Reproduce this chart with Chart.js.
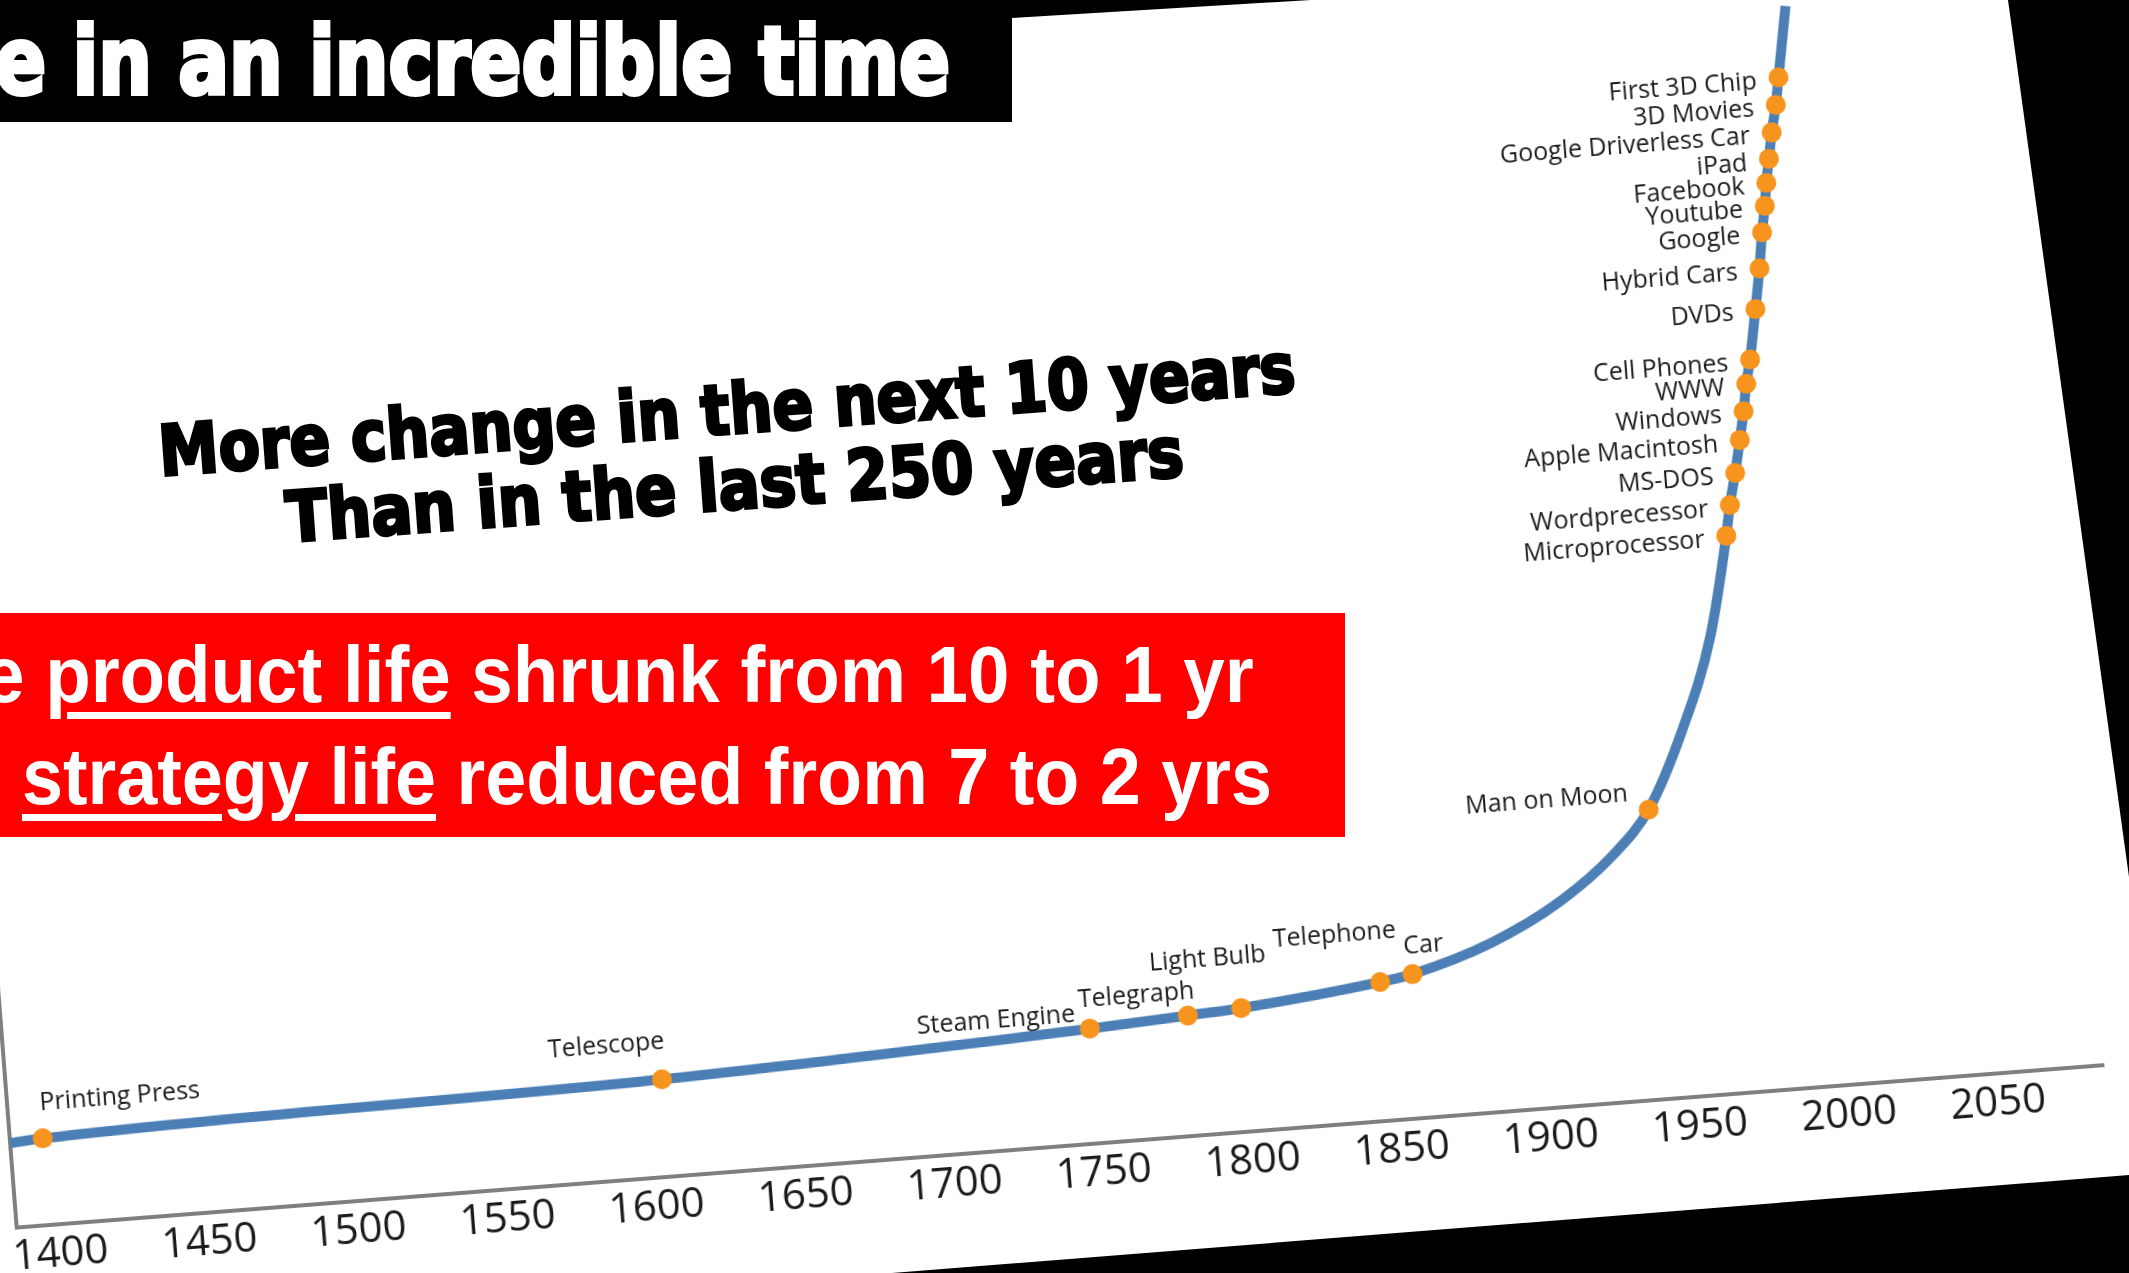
<!DOCTYPE html>
<html>
<head>
<meta charset="utf-8">
<script src="https://cdn.jsdelivr.net/npm/chart.js@4.4.1/dist/chart.umd.min.js"></script>
<style>
html, body { margin: 0; padding: 0; }
body { width: 2129px; height: 1273px; background: #000; overflow: hidden; position: relative; }
#paper { position: absolute; left: 0; top: 0; width: 2129px; height: 1273px; background: #fff; z-index: 1;
  clip-path: polygon(0 0, 1012px 0, 1012px 18px, 1311px 0, 2008px 0, 2129px 877px, 2129px 1175px, 892px 1273px, 0 1273px); }
#chartBox { position: absolute; left: 0; top: 0; transform-origin: 0 0; z-index: 2; }
#titleBar { position: absolute; left: 0; top: 0; width: 1012px; height: 122px; background: #000; z-index: 3; }
#redBox { position: absolute; left: 0; top: 613px; width: 1345px; height: 224px; background: #ff0000; z-index: 3; }
.anchor { position: absolute; width: 0; height: 0; transform-origin: 0 0; z-index: 4; }
.txt { position: absolute; left: 0; white-space: nowrap; font-weight: bold; }
.txt u { text-decoration-thickness: 7px; text-underline-offset: 10px; }
</style>
</head>
<body>
<div id="paper"></div>
<div id="chartBox"><canvas id="timeline" width="2173" height="1176"></canvas></div>
<div id="titleBar"></div>
<div id="redBox"></div>
<script>
// milestones along the curve (year, relative pace of change)
const milestoneNames = ['Printing Press', 'Telescope', 'Steam Engine', 'Telegraph', 'Light Bulb', 'Telephone', 'Car',
  'Man on Moon', 'Microprocessor', 'Wordprecessor', 'MS-DOS', 'Apple Macintosh', 'Windows', 'WWW', 'Cell Phones',
  'DVDs', 'Hybrid Cars', 'Google', 'Youtube', 'Facebook', 'iPad', 'Google Driverless Car', '3D Movies', 'First 3D Chip'];
const milestoneYears = [1397, 1605, 1749, 1782, 1800, 1847, 1858,
  1941, 1974, 1976, 1978.6, 1981, 1983, 1984.6, 1986.5,
  1989.6, 1992, 1993.8, 1995.4, 1996.5, 1998, 1999.6, 2001.7, 2003.3];
const milestoneValues = [8.0, 9.0, 10.6, 11.1, 11.4, 12.8, 13.3,
  26.7, 51.3, 54.1, 57.0, 60.0, 62.6, 65.1, 67.3,
  71.9, 75.6, 78.9, 81.3, 83.4, 85.6, 88.0, 90.5, 93.0];
// extra readings of the curve itself (no marker)
const curveYears = [1386, 1885, 1909, 1928, 1954, 1966, 2007.5];
const curveValues = [7.8, 15.6, 18.9, 22.8, 33.6, 42.1, 99.5];
const tickYears = [1400, 1450, 1500, 1550, 1600, 1650, 1700, 1750, 1800, 1850, 1900, 1950, 2000, 2050];

// label offsets (px, in chart frame)
const stackLabel = { dx: -22, dy: 3, align: 'right' };
const labelPlacement = [
  { dx: 80, dy: -35, align: 'center' },
  { dx: -53, dy: -37, align: 'center' },
  { dx: -93, dy: -15, align: 'center' },
  { dx: -50, dy: -24, align: 'center' },
  { dx: -30, dy: -51, align: 'center' },
  { dx: -42, dy: -50, align: 'center' },
  { dx: 13, dy: -28, align: 'center' },
  { dx: -101, dy: -17, align: 'center' }
];
while (labelPlacement.length < milestoneNames.length) labelPlacement.push(stackLabel);

const milestonePoints = milestoneYears.map((y, i) => ({ x: y, y: milestoneValues[i] }));
const linePoints = milestonePoints
  .concat(curveYears.map((y, i) => ({ x: y, y: curveValues[i] })))
  .sort((a, b) => a.x - b.x);

const labelPlugin = {
  id: 'milestoneLabels',
  afterDatasetsDraw(chart) {
    const meta = chart.getDatasetMeta(1);
    const c = chart.ctx;
    c.save();
    c.font = '25px "Open Sans"';
    c.fillStyle = '#1c1c1c';
    c.textBaseline = 'middle';
    meta.data.forEach((pt, i) => {
      const p = labelPlacement[i];
      c.textAlign = p.align;
      c.fillText(milestoneNames[i], pt.x + p.dx, pt.y + p.dy);
    });
    c.restore();
  }
};

const chart = new Chart(document.getElementById('timeline'), {
  type: 'scatter',
  data: {
    datasets: [{
      type: 'line',
      data: linePoints,
      borderColor: '#4b7fb6',
      borderWidth: 10,
      pointRadius: 0,
      cubicInterpolationMode: 'monotone',
      fill: false,
      order: 2
    }, {
      data: milestonePoints,
      backgroundColor: '#f7941d',
      borderWidth: 0,
      pointRadius: 10,
      order: 1
    }]
  },
  options: {
    responsive: false,
    animation: false,
    events: [],
    layout: { padding: { left: 40, right: 40, top: 20, bottom: 10 } },
    plugins: { legend: { display: false }, tooltip: { enabled: false } },
    scales: {
      x: {
        type: 'linear', min: 1386, max: 2086,
        afterBuildTicks: s => { s.ticks = tickYears.map(v => ({ value: v })); },
        afterFit: s => { s.height = 60; },
        grid: { drawOnChartArea: false, drawTicks: false },
        border: { color: '#7f7f7f', width: 4 },
        ticks: { font: { family: 'Open Sans', size: 42 }, color: '#1b1b1b', padding: 5, maxRotation: 0, autoSkip: false, callback: v => String(v) }
      },
      y: {
        min: 0, max: 100,
        afterFit: s => { s.width = 0; },
        grid: { drawOnChartArea: false, drawTicks: false },
        border: { color: '#7f7f7f', width: 4 },
        ticks: { display: false }
      }
    }
  },
  plugins: [labelPlugin]
});

// put the chart's lower-left corner where the tilted slide has it
const th = 4.45 * Math.PI / 180;
const area = chart.chartArea;
const box = document.getElementById('chartBox');
box.style.left = (17 - (area.left * Math.cos(th) + area.bottom * Math.sin(th))) + 'px';
box.style.top = (1228 - (-area.left * Math.sin(th) + area.bottom * Math.cos(th))) + 'px';
box.style.transform = 'rotate(-4.45deg)';

// slide texts
const heavy = '"DejaVu Sans Condensed","DejaVu Sans",sans-serif';
const narrow = '"Liberation Sans Narrow","Liberation Sans",sans-serif';
const texts = [
  { html: 'e in an incredible time', x: -5, y: 95, size: 94, width: 955, align: 'left', angle: 0, color: '#fff', font: heavy, stroke: '4px #fff' },
  { html: 'More change in the next 10 years', x: 728, y: 433.5, size: 70, width: 1139, align: 'center', angle: -4.2, color: '#000', font: heavy, stroke: '3px #000' },
  { html: 'Than in the last 250 years', x: 735.5, y: 508.5, size: 70, width: 900, align: 'center', angle: -4.2, color: '#000', font: heavy, stroke: '3px #000' },
  { html: 'e <u>product life</u> shrunk from 10 to 1 yr', x: -17, y: 702, size: 79, width: 1271, align: 'left', angle: 0, color: '#fff', font: narrow },
  { html: '<u>strategy life</u> reduced from 7 to 2 yrs', x: 22, y: 804, size: 79, width: 1250, align: 'left', angle: 0, color: '#fff', font: narrow }
];
texts.forEach(t => {
  const a = document.createElement('div');
  a.className = 'anchor';
  a.style.left = t.x + 'px';
  a.style.top = t.y + 'px';
  a.style.transform = 'rotate(' + t.angle + 'deg)';
  const s = document.createElement('div');
  s.className = 'txt';
  s.innerHTML = t.html;
  s.style.fontFamily = t.font;
  s.style.fontSize = t.size + 'px';
  s.style.lineHeight = t.size + 'px';
  s.style.top = (-0.8465 * t.size) + 'px';
  s.style.color = t.color;
  if (t.stroke) s.style.webkitTextStroke = t.stroke;
  a.appendChild(s);
  document.body.appendChild(a);
  const w = s.offsetWidth;
  const k = t.width / w;
  if (t.align === 'center') {
    s.style.left = (-w / 2) + 'px';
    s.style.transformOrigin = '50% 50%';
  } else {
    s.style.transformOrigin = '0 50%';
  }
  s.style.transform = 'scaleX(' + k + ')';
});
</script>
</body>
</html>
